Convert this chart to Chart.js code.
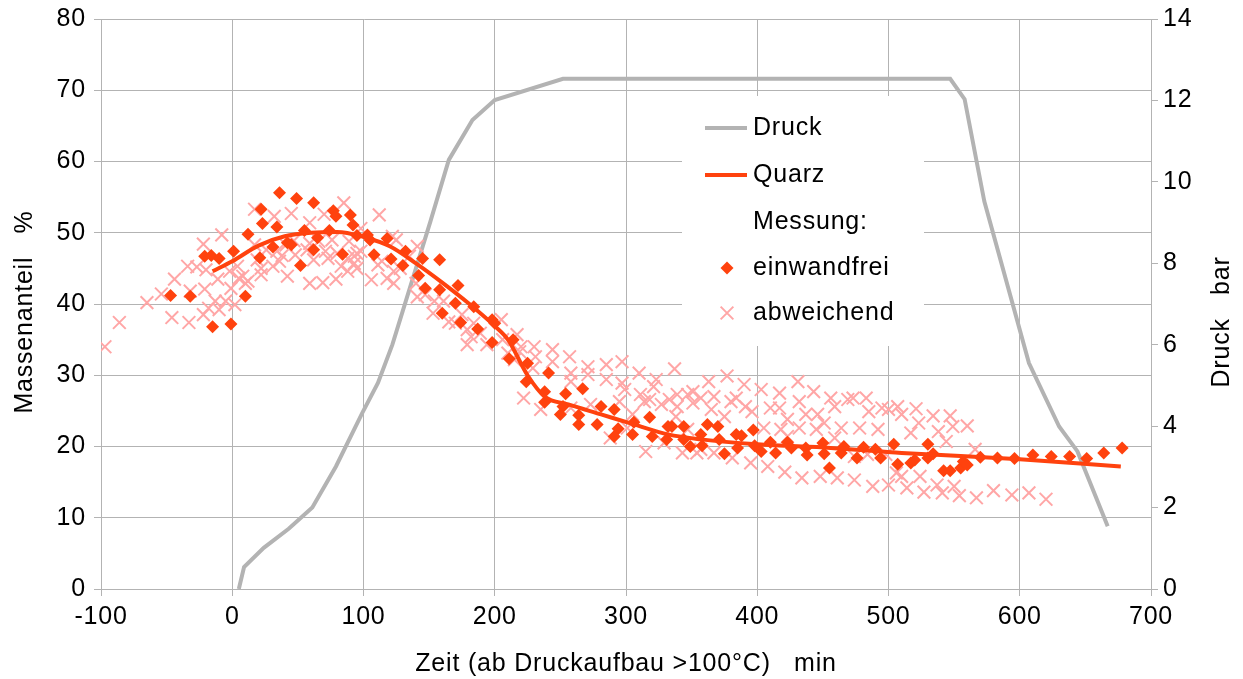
<!DOCTYPE html>
<html lang="de">
<head>
<meta charset="utf-8">
<title>Quarzanteil und Druck</title>
<script src="https://cdn.jsdelivr.net/npm/chart.js@4/dist/chart.umd.min.js"></script>
<style>
  html, body { margin: 0; padding: 0; background: #ffffff; }
  #wrap { width: 1243px; height: 679px; position: relative; }
</style>
</head>
<body>
<div id="wrap"><canvas id="c" width="1243" height="679"></canvas></div>
<script>
// Druckverlauf (rechte Achse, bar)
const druckZeit = [5, 9, 24, 43, 61, 79, 99, 111, 122, 151, 165, 183, 200, 252, 547, 558, 573, 607, 630, 644, 667];
const druckBar  = [0, 0.54, 1.01, 1.48, 2.0, 3.01, 4.32, 5.06, 6.0, 9.03, 10.54, 11.52, 12.01, 12.53, 12.53, 12.03, 9.52, 5.55, 3.99, 3.38, 1.54];

// Quarz-Ausgleichskurve (linke Achse, %)
const quarzZeit   = [-15, 0, 20, 40, 60, 80, 100, 120, 140, 160, 180, 200, 210, 225, 238, 256, 281, 306, 332, 357, 400, 456, 510, 600, 677];
const quarzAnteil = [44.6, 46.0, 48.2, 49.5, 50.0, 50.1, 49.4, 48.1, 45.7, 43.0, 40.1, 36.9, 35.0, 30.0, 27.0, 25.9, 24.5, 23.1, 21.7, 21.0, 20.3, 19.8, 19.1, 18.2, 17.2];

// Messung: einwandfrei
const einwandfreiZeit = [
  -47, -32, -21, -16, -10, -15, -1, 1, 10, 12, 21, 22, 23, 31, 34, 36, 42, 45, 49, 52, 55, 62, 62, 65, 74, 77, 79, 84, 90, 92, 95,
  103, 105, 108, 118, 121, 130, 132, 142, 145, 147, 158, 158, 160, 170, 172, 174, 184, 187, 198, 200, 198, 211, 214, 225, 224,
  241, 238, 238, 254, 267, 252, 250, 264, 264, 278, 281, 291, 294, 291, 305, 306, 318, 320, 332, 335, 331, 344, 349, 357,
  344, 358, 362, 370, 371, 375, 384, 388, 385, 397, 398, 403, 410, 414, 423, 426, 437, 438, 450, 451, 455, 466, 464, 476, 481, 490, 494, 504, 507,
  517, 520, 530, 530, 534, 542, 547, 555, 557, 560, 570, 583, 596, 610, 624, 638, 651, 664, 678
];
const einwandfreiAnteil = [
  41.2, 41.1, 46.7, 46.8, 46.4, 36.8, 37.2, 47.4, 41.1, 49.8, 46.5, 53.3, 51.3, 48.0, 50.8, 55.6, 48.6, 48.3, 54.8, 45.4, 50.3, 54.2, 47.6, 49.3, 50.3, 53.1, 52.3, 47.0, 52.5, 51.1, 49.6,
  49.7, 49.0, 46.9, 49.2, 46.3, 45.4, 47.4, 44.0, 46.4, 42.2, 46.2, 42.0, 38.7, 40.1, 42.6, 37.4, 39.6, 36.5, 37.8, 37.3, 34.6, 32.3, 35.0, 31.7, 29.1,
  30.3, 27.7, 26.2, 27.4, 28.1, 25.6, 24.5, 24.4, 23.1, 23.1, 25.6, 25.2, 22.5, 21.4, 21.7, 23.4, 24.1, 21.4, 22.8, 22.8, 21.0, 22.8, 20.0, 21.7,
  21.0, 20.1, 23.1, 22.8, 21.0, 19.0, 21.7, 21.5, 19.8, 22.3, 20.1, 19.3, 20.6, 19.1, 20.6, 19.8, 19.8, 18.8, 20.5, 19.0, 17.0, 20.0, 19.1, 18.4, 19.9, 19.6, 18.4, 20.3, 17.5,
  17.7, 18.1, 20.3, 18.4, 19.0, 16.6, 16.6, 17.0, 17.9, 17.4, 18.5, 18.4, 18.3, 18.8, 18.6, 18.6, 18.3, 19.1, 19.8
];

// Messung: abweichend
const abweichendZeit = [
  -97, -86, -65, -54, -44, -46, -33, -34, -27, -22, -20, -21, -32, -8, -11, -13, -18, -10, -22, -5, 2, -1, -2, 4, 5, 8, 10, 12, 19, 22, 17, 22,
  85, 32, 45, 59, 70, 17, 26, 34, 38, 41, 47, 59, 66, 76, 71, 80, 95, 57, 62, 48, 31, 42, 59, 69, 79, 73, 83, 88, 93, 36,
  112, 98, 89, 93, 98, 95, 88, 106, 111, 114, 123, 123, 118, 122, 125, 135, 128, 140, 141, 147, 154, 161, 153, 165, 175, 179, 170, 184, 182, 189, 179, 194, 205, 206, 217, 220, 210, 215, 230, 231, 229, 141,
  219, 244, 244, 257, 271, 271, 258, 258, 285, 285, 297, 297, 299, 310, 311, 318, 323, 321, 337, 333, 339, 347, 351, 351, 222, 235, 273, 258, 295, 314, 327, 339, 305, 338, 301, 288, 315, 329, 343, 357,
  363, 377, 390, 403, 417, 431, 443, 357, 367, 365, 380, 384, 391, 396, 410, 417, 423, 432, 437, 446, 456, 459, 469, 473, 483, 485, 495, 500, 347, 375, 405, 418, 423, 432, 445, 451, 464, 459, 478, 492, 354, 367, 381, 395, 408, 421, 434, 448, 461, 474, 488, 500, 474, 484, 498, 506,
  507, 510, 521, 523, 534, 547, 549, 560, 538, 517, 544, 566, 510, 524, 514, 527, 537, 541, 550, 554, 567, 580, 594, 607, 620
];
const abweichendAnteil = [
  34.0, 37.4, 40.2, 41.4, 43.5, 38.1, 37.4, 45.3, 45.2, 48.4, 44.8, 42.1, 41.8, 49.7, 43.5, 40.4, 39.4, 39.2, 38.5, 40.4, 39.9, 42.2, 44.6, 45.3, 43.6, 43.9, 42.9, 43.2, 46.2, 44.1, 53.3, 45.0,
  54.2, 52.3, 52.7, 51.4, 52.6, 48.3, 47.6, 47.4, 46.8, 48.3, 48.9, 48.5, 48.8, 49.0, 47.4, 47.1, 47.1, 47.6, 46.2, 46.9, 45.3, 43.9, 42.9, 43.0, 43.5, 46.4, 45.3, 46.4, 45.7, 46.0,
  52.5, 50.6, 48.8, 46.7, 47.4, 45.0, 44.6, 43.4, 45.5, 46.0, 44.6, 42.9, 43.6, 49.5, 49.0, 46.7, 45.0, 42.9, 41.0, 41.3, 40.4, 40.4, 38.7, 37.5, 38.5, 36.4, 37.3, 37.3, 35.4, 35.9, 34.3, 34.3, 37.8, 35.0, 35.7, 34.0, 33.1, 32.2, 34.0, 32.6, 31.0, 48.1,
  33.3, 31.9, 33.6, 32.6, 31.2, 30.1, 30.3, 29.1, 31.5, 29.4, 31.9, 28.9, 28.0, 30.3, 27.3, 26.6, 29.4, 28.4, 30.9, 26.6, 27.3, 27.3, 27.7, 26.1, 26.8, 25.2, 25.9, 25.4, 26.3, 26.3, 25.9, 25.6, 24.5, 24.2, 22.6, 21.2, 19.3, 20.5, 19.1, 19.6,
  29.1, 29.9, 28.7, 28.0, 27.5, 29.1, 27.7, 26.8, 27.0, 25.2, 26.3, 26.8, 25.6, 24.9, 25.4, 25.4, 23.8, 26.3, 24.5, 24.5, 26.8, 25.6, 26.6, 26.8, 26.8, 24.9, 25.4, 25.2, 22.4, 24.2, 22.6, 22.4, 21.4, 22.6, 22.4, 23.3, 22.6, 21.2, 22.6, 22.4, 19.1, 19.1, 18.4, 17.7, 17.2, 16.4, 15.6, 15.8, 15.6, 15.3, 14.4, 14.6, 18.6, 18.9, 18.9, 16.3,
  25.6, 24.5, 25.3, 23.3, 24.3, 24.3, 22.8, 22.9, 22.1, 21.9, 20.7, 19.6, 15.8, 15.8, 14.2, 13.6, 14.6, 13.5, 14.4, 13.1, 12.8, 13.8, 13.2, 13.5, 12.6
];

// Achsenbeschriftung
const zeitTitel   = 'Zeit (ab Druckaufbau >100°C)   min';
const anteilTitel = 'Massenanteil   %';
const druckTitel  = 'Druck   bar';
const legendeTexte = ['Druck', 'Quarz', 'Messung:', 'einwandfrei', 'abweichend'];

const FARBE_DRUCK = '#b3b3b3';
const FARBE_QUARZ = '#ff420e';
const FARBE_ABW   = '#ffa6a6';
const GITTER      = '#b3b3b3';
const SCHRIFT     = "'Liberation Sans', Arial, sans-serif";
const SPERRUNG    = '0.8px';

const toPoints = (xs, ys) => xs.map((x, i) => ({ x: x, y: ys[i] }));

Chart.defaults.font.family = SCHRIFT;
Chart.defaults.font.size = 25;
Chart.defaults.color = '#000000';

// etwas breiter laufende Schrift für alle Beschriftungen
const schriftSperrung = {
  id: 'schriftSperrung',
  beforeLayout(chart) { chart.ctx.letterSpacing = SPERRUNG; },
  beforeDraw(chart) { chart.ctx.letterSpacing = SPERRUNG; }
};

// senkrechte Achsentitel (von unten nach oben gelesen)
function senkrechterTitel(ctx, text, x, y) {
  ctx.save();
  ctx.translate(x, y);
  ctx.rotate(-Math.PI / 2);
  ctx.fillStyle = '#000000';
  ctx.font = '25px ' + SCHRIFT;
  ctx.letterSpacing = SPERRUNG;
  ctx.textAlign = 'center';
  ctx.textBaseline = 'middle';
  ctx.fillText(text, 0, 0);
  ctx.restore();
}

// Legende im Diagramm mit weißem Hintergrund und senkrechte Achsentitel
const legendeImDiagramm = {
  id: 'legendeImDiagramm',
  afterDatasetsDraw(chart) {
    const ctx = chart.ctx;
    ctx.save();
    ctx.fillStyle = '#ffffff';
    ctx.fillRect(682, 96, 242, 250);

    const textX = 753;
    const zeilen = [128, 175, 222, 268, 313];
    ctx.lineCap = 'butt';
    ctx.lineWidth = 4;
    ctx.strokeStyle = FARBE_DRUCK;
    ctx.beginPath(); ctx.moveTo(705, zeilen[0]); ctx.lineTo(747, zeilen[0]); ctx.stroke();
    ctx.strokeStyle = FARBE_QUARZ;
    ctx.beginPath(); ctx.moveTo(705, zeilen[1]); ctx.lineTo(747, zeilen[1]); ctx.stroke();

    ctx.fillStyle = FARBE_QUARZ;
    Chart.helpers.drawPoint(ctx, { pointStyle: 'rectRot', radius: 6.5, borderWidth: 0 }, 727, zeilen[3]);
    ctx.fillStyle = FARBE_ABW;
    ctx.strokeStyle = FARBE_ABW;
    ctx.lineWidth = 2;
    Chart.helpers.drawPoint(ctx, { pointStyle: 'crossRot', radius: 9, borderWidth: 2 }, 727, zeilen[4]);

    ctx.fillStyle = '#000000';
    ctx.font = '25px ' + SCHRIFT;
    ctx.letterSpacing = SPERRUNG;
    ctx.textAlign = 'left';
    ctx.textBaseline = 'middle';
    legendeTexte.forEach((t, i) => ctx.fillText(t, textX, zeilen[i]));
    ctx.restore();
  },
  afterDraw(chart) {
    senkrechterTitel(chart.ctx, anteilTitel, 25, 312);
    senkrechterTitel(chart.ctx, druckTitel, 1222, 322);
  }
};

new Chart(document.getElementById('c'), {
  type: 'scatter',
  data: {
    datasets: [
      {
        label: 'Quarz',
        type: 'line',
        data: toPoints(quarzZeit, quarzAnteil),
        yAxisID: 'y',
        borderColor: FARBE_QUARZ,
        borderWidth: 4,
        pointRadius: 0,
        fill: false,
        cubicInterpolationMode: 'monotone',
        order: 1
      },
      {
        label: 'einwandfrei',
        data: toPoints(einwandfreiZeit, einwandfreiAnteil),
        yAxisID: 'y',
        pointStyle: 'rectRot',
        pointRadius: 6.5,
        pointBorderWidth: 0,
        backgroundColor: FARBE_QUARZ,
        borderColor: FARBE_QUARZ,
        order: 2
      },
      {
        label: 'abweichend',
        data: toPoints(abweichendZeit, abweichendAnteil),
        yAxisID: 'y',
        pointStyle: 'crossRot',
        pointRadius: 9,
        pointBorderWidth: 2,
        backgroundColor: FARBE_ABW,
        borderColor: FARBE_ABW,
        order: 3
      },
      {
        label: 'Druck',
        type: 'line',
        data: toPoints(druckZeit, druckBar),
        yAxisID: 'y1',
        borderColor: FARBE_DRUCK,
        borderWidth: 4,
        pointRadius: 0,
        tension: 0,
        fill: false,
        order: 4
      }
    ]
  },
  options: {
    responsive: false,
    animation: false,
    devicePixelRatio: 1,
    layout: { padding: { top: 19, left: 0, right: 0, bottom: 0 } },
    plugins: {
      legend: { display: false },
      tooltip: { enabled: false }
    },
    scales: {
      x: {
        type: 'linear',
        position: 'bottom',
        min: -100,
        max: 700,
        ticks: { stepSize: 100, padding: 6, color: '#000000', font: { size: 25 } },
        grid: { color: GITTER, lineWidth: 1, tickLength: 7, drawTicks: true },
        border: { color: GITTER, width: 1 },
        title: { display: true, text: zeitTitel, color: '#000000', font: { size: 25 }, padding: { top: 0, bottom: 0 } },
        afterFit(scale) { scale.height = 90; }
      },
      y: {
        type: 'linear',
        position: 'left',
        min: 0,
        max: 80,
        ticks: { stepSize: 10, padding: 8, color: '#000000', font: { size: 25 } },
        grid: { color: GITTER, lineWidth: 1, tickLength: 7 },
        border: { color: GITTER, width: 1 },
        afterFit(scale) { scale.width = 101; scale.paddingTop = 0; scale.paddingBottom = 0; }
      },
      y1: {
        type: 'linear',
        position: 'right',
        min: 0,
        max: 14,
        ticks: { stepSize: 2, padding: 5, color: '#000000', font: { size: 25 } },
        grid: { drawOnChartArea: false, color: GITTER, tickLength: 7 },
        border: { color: GITTER, width: 1 },
        afterFit(scale) { scale.width = 92; scale.paddingTop = 0; scale.paddingBottom = 0; }
      }
    }
  },
  plugins: [schriftSperrung, legendeImDiagramm]
});
</script>
</body>
</html>
